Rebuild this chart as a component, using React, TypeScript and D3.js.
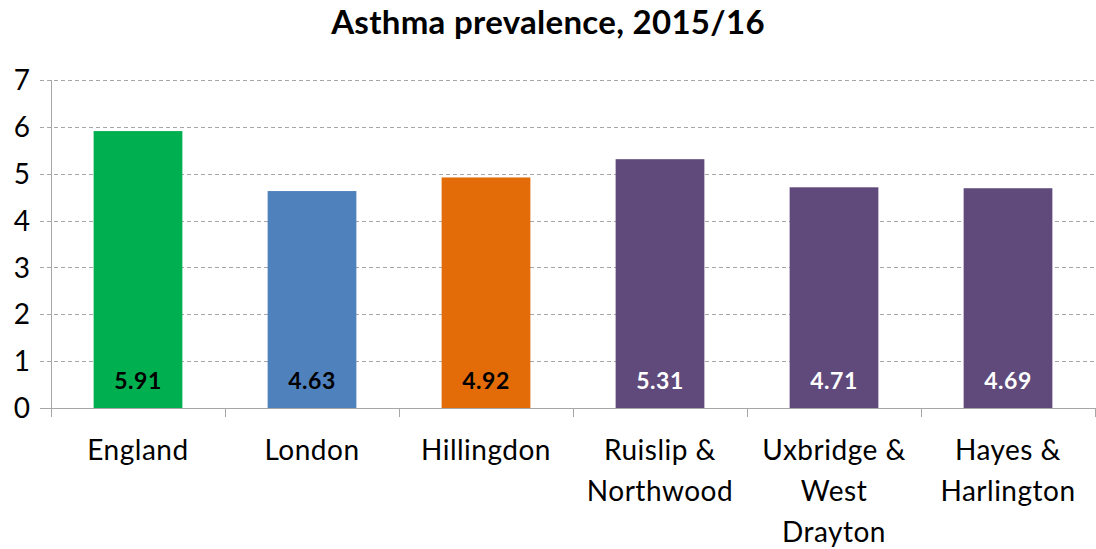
import React, { useEffect, useRef } from 'react';
import * as d3 from 'd3';

const categories = ['England', 'London', 'Hillingdon', 'Ruislip & Northwood', 'Uxbridge & West Drayton', 'Hayes & Harlington'];
const categoryLines = [['England'], ['London'], ['Hillingdon'], ['Ruislip &', 'Northwood'], ['Uxbridge &', 'West', 'Drayton'], ['Hayes &', 'Harlington']];
const values = [5.91, 4.63, 4.92, 5.31, 4.71, 4.69];
const barColors = ['#00B050', '#4F81BD', '#E36C09', '#604A7B', '#604A7B', '#604A7B'];
const labelColors = ['#000000', '#000000', '#000000', '#ffffff', '#ffffff', '#ffffff'];
const yTicks = [0, 1, 2, 3, 4, 5, 6, 7];
const title = 'Asthma prevalence, 2015/16';

const W = 1096;
const H = 549;
const font = 'Lato, "Open Sans", sans-serif';

const App: React.FC = () => {
  const ref = useRef<SVGSVGElement | null>(null);

  useEffect(() => {
    const svg = d3.select(ref.current);
    svg.selectAll('*').remove();

    const left = 51;
    const right = 1095;
    const top = 80;
    const bottom = 408;

    const x = d3.scaleBand<string>().domain(categories).range([left, right]).paddingInner(0.49).paddingOuter(0.245);
    const xTicks = d3.scaleBand<string>().domain(categories).range([left, right]);
    const y = d3.scaleLinear().domain([0, 7]).range([bottom, top]);

    // title
    svg.append('text')
      .attr('x', W / 2)
      .attr('y', 34)
      .attr('text-anchor', 'middle')
      .style('font-family', font)
      .style('font-weight', 'bold')
      .style('font-size', '33px')
      .style('letter-spacing', '0.3px')
      .text(title);

    // gridlines
    svg.append('g')
      .selectAll('line')
      .data(yTicks.filter((t) => t > 0))
      .enter()
      .append('line')
      .attr('x1', left - 11)
      .attr('x2', right)
      .attr('y1', (d) => Math.round(y(d)) + 0.5)
      .attr('y2', (d) => Math.round(y(d)) + 0.5)
      .attr('stroke', '#a6a6a6')
      .attr('stroke-width', 1)
      .attr('stroke-dasharray', '4,3');

    // y tick labels
    svg.append('g')
      .selectAll('text')
      .data(yTicks)
      .enter()
      .append('text')
      .attr('x', 30)
      .attr('y', (d) => y(d))
      .attr('dy', '0.36em')
      .attr('text-anchor', 'end')
      .style('font-family', font)
      .style('font-size', '28px')
      .attr('fill', '#000')
      .text((d) => d);

    // bars
    svg.append('g')
      .selectAll('rect')
      .data(values)
      .enter()
      .append('rect')
      .attr('x', (_, i) => x(categories[i])!)
      .attr('y', (d) => y(d))
      .attr('width', x.bandwidth())
      .attr('height', (d) => y(0) - y(d))
      .attr('fill', (_, i) => barColors[i]);

    // value labels
    svg.append('g')
      .selectAll('text')
      .data(values)
      .enter()
      .append('text')
      .attr('x', (_, i) => x(categories[i])! + x.bandwidth() / 2)
      .attr('y', y(0) - 27)
      .attr('text-anchor', 'middle')
      .attr('dy', '0.36em')
      .style('font-family', font)
      .style('font-weight', 'bold')
      .style('font-size', '23px')
      .style('letter-spacing', '0.5px')
      .attr('fill', (_, i) => labelColors[i])
      .text((d) => d.toFixed(2));

    // axes lines
    svg.append('line')
      .attr('x1', left + 0.5).attr('x2', left + 0.5)
      .attr('y1', top).attr('y2', bottom + 9)
      .attr('stroke', '#a6a6a6');
    svg.append('line')
      .attr('x1', left - 11).attr('x2', right)
      .attr('y1', bottom + 0.5).attr('y2', bottom + 0.5)
      .attr('stroke', '#a6a6a6');
    svg.append('g')
      .selectAll('line')
      .data(categories)
      .enter()
      .append('line')
      .attr('x1', (d) => Math.round(xTicks(d)! + xTicks.bandwidth()) + 0.5)
      .attr('x2', (d) => Math.round(xTicks(d)! + xTicks.bandwidth()) + 0.5)
      .attr('y1', bottom)
      .attr('y2', bottom + 9)
      .attr('stroke', '#a6a6a6');

    // category labels
    const cat = svg.append('g')
      .selectAll('text')
      .data(categoryLines)
      .enter()
      .append('text')
      .attr('x', (_, i) => xTicks(categories[i])! + xTicks.bandwidth() / 2)
      .attr('y', 460)
      .attr('text-anchor', 'middle')
      .style('font-family', font)
      .style('font-size', '28px')
      .style('letter-spacing', '0.5px')
      .attr('fill', '#000');
    cat.selectAll('tspan')
      .data((d) => d)
      .enter()
      .append('tspan')
      .attr('x', function () {
        return (this as SVGTSpanElement).parentElement!.getAttribute('x');
      })
      .attr('dy', (_, j) => (j === 0 ? 0 : 41))
      .text((d) => d);
  }, []);

  return (
    <svg ref={ref} width={W} height={H} style={{ position: 'absolute', left: 0, top: 0, background: '#fff' }} />
  );
};

export default App;
